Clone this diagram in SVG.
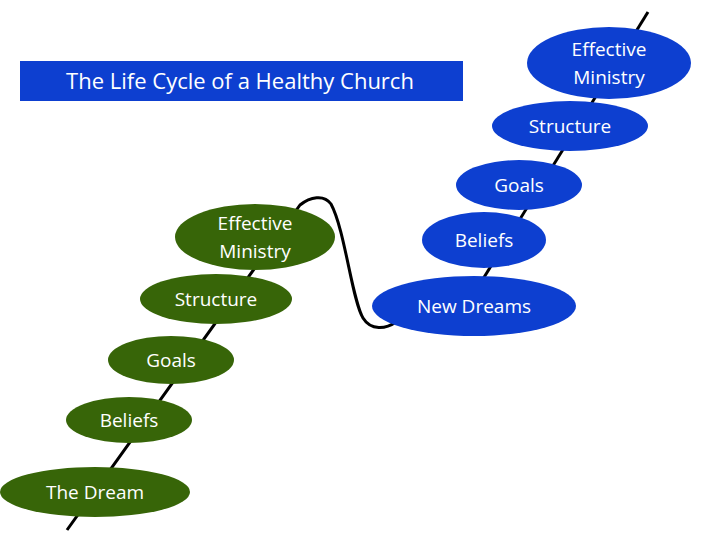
<svg xmlns="http://www.w3.org/2000/svg" width="720" height="540" viewBox="0 0 720 540">
<style>
.g{fill:#376508}.b{fill:#0d3fd0}
text{font-family:"Open Sans","Liberation Sans",sans-serif;font-size:19px;fill:#fff;text-anchor:middle}
.ln{stroke:#000;stroke-width:3;fill:none}
</style>
<rect width="720" height="540" fill="#fff"/>
<g id="connectors">
<path class="ln" d="M67,530 L300,205 C310,197 324,194 331,204 C345,230 352,300 363,318 C371,331 386,329 396,322"/>
<path class="ln" d="M470,300 L648,12"/>
</g>
<g id="title"><rect x="20" y="61" width="443" height="40" fill="#0d3fd0"/><text x="240" y="89" style="font-size:22px">The Life Cycle of a Healthy Church</text></g>
<g id="dream"><ellipse class="g" cx="95" cy="492" rx="95" ry="25"/><text x="95" y="499">The Dream</text></g>
<g id="beliefs1"><ellipse class="g" cx="129" cy="420" rx="63" ry="23"/><text x="129" y="427">Beliefs</text></g>
<g id="goals1"><ellipse class="g" cx="171" cy="360" rx="63" ry="24"/><text x="171" y="367">Goals</text></g>
<g id="structure1"><ellipse class="g" cx="216" cy="299" rx="76" ry="25"/><text x="216" y="306">Structure</text></g>
<g id="ministry1"><ellipse class="g" cx="255" cy="237" rx="80" ry="33"/><text x="255" y="230">Effective</text><text x="255" y="258">Ministry</text></g>
<g id="newdreams"><ellipse class="b" cx="474" cy="306" rx="102" ry="30"/><text x="474" y="313">New Dreams</text></g>
<g id="beliefs2"><ellipse class="b" cx="484" cy="240" rx="62" ry="28"/><text x="484" y="247">Beliefs</text></g>
<g id="goals2"><ellipse class="b" cx="519" cy="185" rx="63" ry="25"/><text x="519" y="192">Goals</text></g>
<g id="structure2"><ellipse class="b" cx="570" cy="126" rx="78" ry="25"/><text x="570" y="133">Structure</text></g>
<g id="ministry2"><ellipse class="b" cx="609" cy="63" rx="82" ry="36"/><text x="609" y="56">Effective</text><text x="609" y="84">Ministry</text></g>
</svg>
